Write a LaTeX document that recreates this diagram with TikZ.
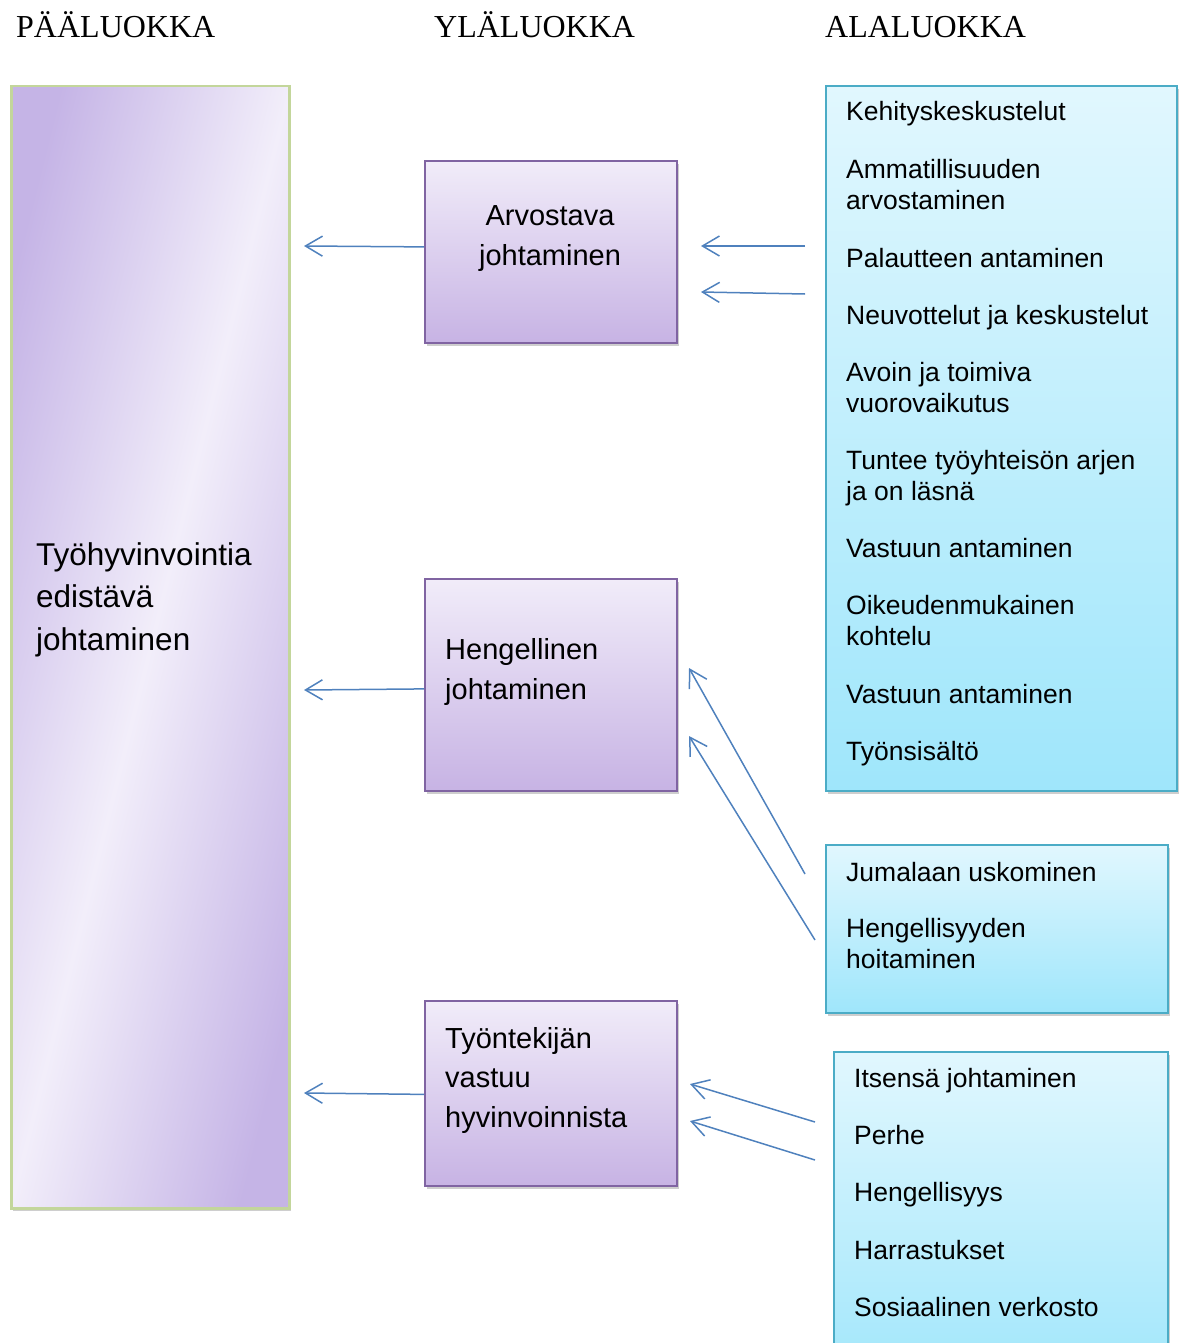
\documentclass[tikz,border=0pt]{standalone}
\usepackage{fontspec}
\setmainfont{Liberation Sans}
\newfontfamily\headfont{Liberation Serif}
\usetikzlibrary{arrows.meta,shadows}
\definecolor{mainborder}{HTML}{C3D69B}
\definecolor{maindark}{HTML}{C5B4E6}
\definecolor{mainlight}{HTML}{F2EEFA}
\definecolor{purpborder}{HTML}{8064A2}
\definecolor{purptop}{HTML}{F1ECF9}
\definecolor{purpbottom}{HTML}{C7B3E4}
\definecolor{cyanborder}{HTML}{4BACC6}
\definecolor{cyantop}{HTML}{E1F7FE}
\definecolor{cyanbottom}{HTML}{9FE6FB}
\definecolor{arrowblue}{HTML}{4F81BD}
\begin{document}
\begin{tikzpicture}[x=1pt,y=-1pt,
  boxshadow/.style={drop shadow={shadow xshift=2pt,shadow yshift=-3pt,opacity=0.35,fill=black!55}},
  mainbox/.style={boxshadow,draw=mainborder,line width=2.5pt,top color=maindark,bottom color=maindark,middle color=mainlight,shading angle=76,anchor=north west,inner sep=0pt},
  purpbox/.style={boxshadow,draw=purpborder,line width=1.8pt,top color=purptop,bottom color=purpbottom,anchor=north west,inner sep=0pt,minimum width=252pt},
  cyanbox/.style={boxshadow,draw=cyanborder,line width=1.8pt,top color=cyantop,bottom color=cyanbottom,anchor=north west,inner sep=0pt},
  headtxt/.style={font=\headfont\fontsize{32}{36}\selectfont,anchor=base west,inner sep=0pt},
  maintxt/.style={font=\fontsize{31.5}{42.5}\selectfont,align=left,anchor=base west,inner sep=0pt},
  midtxt/.style={font=\fontsize{29}{39.5}\selectfont,inner sep=0pt},
  itemtxt/.style={font=\fontsize{26.5}{31}\selectfont,align=left,anchor=base west,inner sep=0pt},
  arr/.style={draw=arrowblue,line width=1.5pt,-{Straight Barb[length=17pt,width=20pt,line width=1.5pt]}}]
\useasboundingbox (0,0) rectangle (1182,1343);

% headings
\node[headtxt] (h1) at (16,38) {PÄÄLUOKKA};
\node[headtxt] (h2) at (434,38) {YLÄLUOKKA};
\node[headtxt] (h3) at (825,38) {ALALUOKKA};

% main box (text anchored at the baseline of its last line)
\node[mainbox,minimum width=278pt,minimum height=1122pt] (main) at (10,85) {};
\node[maintxt] (maint) at (36,650) {Työhyvinvointia\\edistävä\\johtaminen};

% middle boxes
\node[purpbox,minimum height=182pt] (boxA) at (424,160) {};
\node[midtxt,align=center,anchor=base] (boxAt) at (550,265) {Arvostava\\johtaminen};
\node[purpbox,minimum height=212pt] (boxH) at (424,578) {};
\node[midtxt,align=left,anchor=base west] (boxHt) at (445,699) {Hengellinen\\johtaminen};
\node[purpbox,minimum height=185pt] (boxT) at (424,1000) {};
\node[midtxt,align=left,anchor=base west] (boxTt) at (445,1127) {Työntekijän\\vastuu\\hyvinvoinnista};

% right boxes
\node[cyanbox,minimum width=351pt,minimum height=705pt] (r1) at (825,85) {};
\node[cyanbox,minimum width=342pt,minimum height=168pt] (r2) at (825,844) {};
\node[cyanbox,minimum width=334pt,minimum height=340pt] (r3) at (833,1051) {};

\node[itemtxt] (i1) at (846,121) {Kehityskeskustelut};
\node[itemtxt] (i2) at (846,209) {Ammatillisuuden\\arvostaminen};
\node[itemtxt] (i3) at (846,267) {Palautteen antaminen};
\node[itemtxt] (i4) at (846,324) {Neuvottelut ja keskustelut};
\node[itemtxt] (i5) at (846,412) {Avoin ja toimiva\\vuorovaikutus};
\node[itemtxt] (i6) at (846,500) {Tuntee työyhteisön arjen\\ja on läsnä};
\node[itemtxt] (i7) at (846,557) {Vastuun antaminen};
\node[itemtxt] (i8) at (846,645) {Oikeudenmukainen\\kohtelu};
\node[itemtxt] (i9) at (846,703) {Vastuun antaminen};
\node[itemtxt] (i10) at (846,760) {Työnsisältö};

\node[itemtxt] (j1) at (846,881) {Jumalaan uskominen};
\node[itemtxt] (j2) at (846,968) {Hengellisyyden\\hoitaminen};

\node[itemtxt] (k1) at (854,1087) {Itsensä johtaminen};
\node[itemtxt] (k2) at (854,1144) {Perhe};
\node[itemtxt] (k3) at (854,1201) {Hengellisyys};
\node[itemtxt] (k4) at (854,1259) {Harrastukset};
\node[itemtxt] (k5) at (854,1316) {Sosiaalinen verkosto};

% arrow end points
\coordinate (tA) at (304,246);
\coordinate (tH) at (304,690);
\coordinate (tT) at (304,1093);
\coordinate (sA1) at (805,246);
\coordinate (eA1) at (701,246);
\coordinate (sA2) at (805,294);
\coordinate (eA2) at (701,292);
\coordinate (sH1) at (805,874);
\coordinate (eH1) at (689,668);
\coordinate (sH2) at (815,940);
\coordinate (eH2) at (689,736);
\coordinate (sT1) at (815,1122);
\coordinate (eT1) at (690,1084);
\coordinate (sT2) at (815,1160);
\coordinate (eT2) at (690,1121);

\draw[arr] ([yshift=5pt]boxA.west) -- (tA);
\draw[arr] ([yshift=-4pt]boxH.west) -- (tH);
\draw[arr] ([yshift=-1pt]boxT.west) -- (tT);
\draw[arr] (sA1) -- (eA1);
\draw[arr] (sA2) -- (eA2);
\draw[arr] (sH1) -- (eH1);
\draw[arr] (sH2) -- (eH2);
\draw[arr] (sT1) -- (eT1);
\draw[arr] (sT2) -- (eT2);
\end{tikzpicture}
\end{document}
